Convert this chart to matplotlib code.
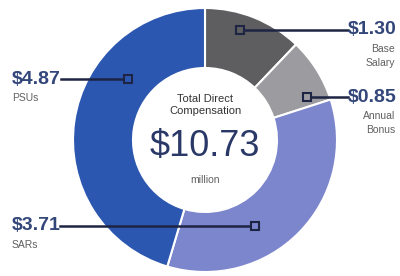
import matplotlib.pyplot as plt
from matplotlib import font_manager

# compensation pieces, clockwise from the top
labels = ["Base\nSalary", "Annual\nBonus", "SARs", "PSUs"]
values = [1.30, 0.85, 3.71, 4.87]
colors = ["#5e5e60", "#9c9ca0", "#7c86cc", "#2c57b0"]
total = "$10.73"

names = [f.name for f in font_manager.fontManager.ttflist]
fam = "Liberation Sans Narrow" if "Liberation Sans Narrow" in names else "Liberation Sans"
plt.rcParams['font.family'] = [fam, 'DejaVu Sans']

H = 276
def Y(y):
    return H - y

fig = plt.figure(figsize=(4, 2.76), dpi=100)
ax = fig.add_axes([0, 0, 1, 1])
cx, cy, R = 205, 140, 132
ax.pie(values, colors=colors, startangle=90, counterclock=False,
       center=(cx, Y(cy)), radius=R,
       wedgeprops=dict(width=R - 72, edgecolor="white", linewidth=1.5))
ax.set_xlim(0, 400)
ax.set_ylim(0, H)
ax.set_aspect("equal")
ax.axis("off")

navy = "#1d2444"
valc = "#33467a"
subc = "#606060"

# leader lines: (line start x, label y, marker x, ha, value, sub, wedge color)
leaders = [
    (348, 30, 240, "right", values[0], labels[0], colors[0]),
    (348, 97, 307, "right", values[1], labels[1], colors[1]),
    (60, 226, 255, "left", values[2], labels[2], colors[2]),
    (61, 79, 128, "left", values[3], labels[3], colors[3]),
]
for lx, ly, mx, ha, v, sub, c in leaders:
    ax.plot([lx, mx], [Y(ly), Y(ly)], color=navy, lw=1.8, zorder=3)
    ax.plot([mx], [Y(ly)], marker="s", ms=6, mfc=c, mec=navy, mew=1.5, zorder=4)
    if ha == "right":
        tx = 397
    else:
        tx = 12
    ax.text(tx, Y(ly), "$%.2f" % v, ha=ha, va="center", fontsize=14,
            fontweight="bold", color=valc)
    ax.text(tx - 2 if ha == "right" else tx, Y(ly + 14), sub, ha=ha, va="top",
            fontsize=7.5, color=subc, linespacing=1.5)

ax.text(cx, Y(105), "Total Direct\nCompensation", ha="center", va="center",
        fontsize=8, color="#333333", linespacing=1.2)
ax.text(cx, Y(147), total, ha="center", va="center", fontsize=26, color="#2a3868")
ax.text(cx, Y(180), "million", ha="center", va="center", fontsize=7.5, color=subc)

fig.savefig("out.png", dpi=100)
